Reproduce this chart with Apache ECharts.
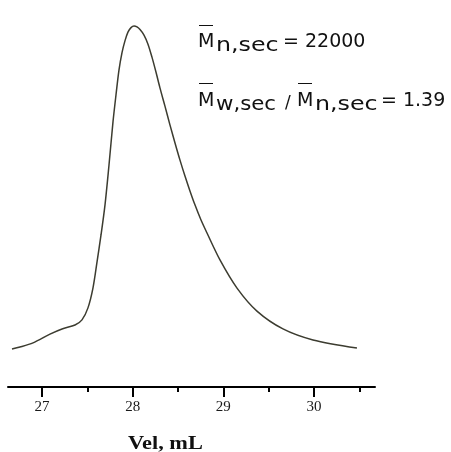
<!DOCTYPE html>
<html>
<head>
<meta charset="utf-8">
<script src="https://cdn.jsdelivr.net/npm/echarts@6/dist/echarts.min.js"></script>
<style>html,body{margin:0;padding:0;background:#fff;}#c{width:451px;height:452px;}</style>
</head>
<body>
<div id="c"></div>
<script>
// Elution volume (mL) and normalized detector response
const volume = [26.669, 26.757, 26.901, 27.088, 27.221, 27.364, 27.441, 27.507, 27.562, 27.607, 27.651, 27.695, 27.739, 27.783, 27.816, 27.849, 27.882, 27.915, 27.948, 27.982, 28.015, 28.048, 28.081, 28.125, 28.169, 28.213, 28.257, 28.301, 28.357, 28.412, 28.467, 28.522, 28.577, 28.632, 28.687, 28.754, 28.820, 28.963, 29.151, 29.371, 29.658, 29.989, 30.474];
const response = [0.003, 0.009, 0.022, 0.049, 0.065, 0.077, 0.093, 0.130, 0.191, 0.272, 0.355, 0.448, 0.571, 0.704, 0.787, 0.864, 0.917, 0.954, 0.981, 0.995, 1.000, 0.997, 0.989, 0.972, 0.944, 0.904, 0.858, 0.809, 0.752, 0.694, 0.639, 0.586, 0.537, 0.491, 0.448, 0.401, 0.361, 0.278, 0.191, 0.120, 0.065, 0.031, 0.006];
const majorTicks = [27, 28, 29, 30];
const minorTicks = [27.5, 28.5, 29.5, 30.5];
const axisTitle = 'Vel, mL';
const mnText = '= 22000';
const pdiText = '= 1.39';

const seriesData = volume.map((v, i) => [v, response[i]]);

const chart = echarts.init(document.getElementById('c'), null, {renderer: 'canvas'});
const sansFont = '19px "DejaVu Sans"';
const txt = (x, y, text, opts) => Object.assign({
  type: 'text', x: x, y: y,
  style: {text: text, font: sansFont, fill: '#111', align: 'left', verticalAlign: 'middle'}
}, opts || {});
const bar = (x1, x2, y) => ({type: 'line', shape: {x1: x1, y1: y, x2: x2, y2: y}, style: {stroke: '#111', lineWidth: 1}});

chart.setOption({
  animation: false,
  grid: {left: 8, right: 76, top: 26, bottom: 65},
  xAxis: [{
    type: 'value', min: 26.625, max: 30.673,
    axisLine: {show: true, onZero: false, lineStyle: {color: '#000', width: 2}},
    axisTick: {show: true, customValues: majorTicks, length: 10, lineStyle: {color: '#000', width: 2}},
    axisLabel: {show: true, customValues: majorTicks, margin: 13, color: '#1a1a1a', fontFamily: 'Liberation Serif', fontSize: 15},
    splitLine: {show: false}
  }, {
    type: 'value', min: 26.625, max: 30.673, position: 'bottom', offset: 0,
    axisLine: {show: false, onZero: false},
    axisTick: {show: true, customValues: minorTicks, length: 5, lineStyle: {color: '#000', width: 2}},
    axisLabel: {show: false},
    splitLine: {show: false}
  }],
  yAxis: {type: 'value', min: -0.1142, max: 1, show: false, splitLine: {show: false}},
  series: [{
    type: 'line', xAxisIndex: 0, data: seriesData, smooth: 0.3, symbol: 'none', clip: false,
    lineStyle: {color: '#3c3c30', width: 1.5}
  }],
  graphic: [
    {type: 'text', x: 128, y: 444, scaleX: 1.24, style: {text: axisTitle, font: 'bold 18px "Liberation Serif"', fill: '#111', align: 'left', verticalAlign: 'middle'}},
    bar(199, 213, 25.5),
    txt(198, 42, 'M'),
    txt(216, 46, 'n,sec', {scaleX: 1.25}),
    txt(283, 42, mnText),
    bar(199, 213, 83.5),
    txt(198, 101, 'M'),
    txt(216, 105, 'w,sec', {scaleX: 1.12}),
    txt(285, 104, '/', {style: {text: '/', font: '17px "DejaVu Sans"', fill: '#111', align: 'left', verticalAlign: 'middle'}}),
    bar(298, 312, 83.5),
    txt(297, 101, 'M'),
    txt(315, 105, 'n,sec', {scaleX: 1.25}),
    txt(381, 101, pdiText)
  ]
});
</script>
</body>
</html>
